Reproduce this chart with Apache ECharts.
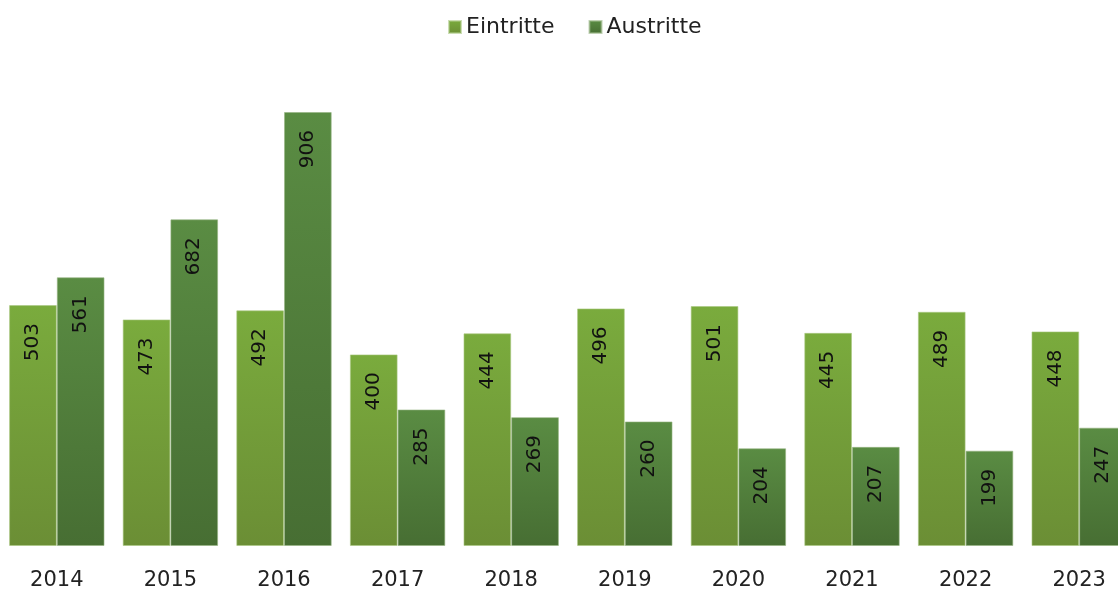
<!DOCTYPE html>
<html>
<head>
<meta charset="utf-8">
<script src="https://cdn.jsdelivr.net/npm/echarts@6/dist/echarts.min.js"></script>
<style>
  html, body { margin: 0; padding: 0; background: #fff; }
  #chart { width: 1118px; height: 592px; }
</style>
</head>
<body>
<div id="chart"></div>
<script>
const years = ["2014", "2015", "2016", "2017", "2018", "2019", "2020", "2021", "2022", "2023"];
const eintritte = [503, 473, 492, 400, 444, 496, 501, 445, 489, 448];
const austritte = [561, 682, 906, 285, 269, 260, 204, 207, 199, 247];

const fontFam = "'DejaVu Sans', sans-serif";

const barLabel = {
  show: true,
  position: "insideTop",
  rotate: 90,
  align: "right",
  verticalAlign: "middle",
  distance: 18,
  color: "#111",
  fontSize: 20,
  fontFamily: fontFam,
};

const option = {
  animation: false,
  legend: {
    top: 11,
    left: 443,
    icon: "rect",
    itemWidth: 12,
    itemHeight: 12,
    itemGap: 34,
    textStyle: { fontSize: 22, fontFamily: fontFam, color: "#222" },
    data: ["Eintritte", "Austritte"],
  },
  grid: {
    left: 0,
    width: 1136,
    top: 67,
    bottom: 46,
    outerBoundsMode: "none",
    containLabel: false,
  },
  xAxis: {
    type: "category",
    data: years,
    axisLine: { show: false },
    axisTick: { show: false },
    axisLabel: {
      margin: 24,
      fontSize: 21,
      fontFamily: fontFam,
      color: "#222",
    },
  },
  yAxis: {
    type: "value",
    min: 0,
    max: 1000,
    show: false,
    splitLine: { show: false },
  },
  series: [
    {
      name: "Eintritte",
      type: "bar",
      data: eintritte,
      barGap: "0%",
      barCategoryGap: "16%",
      label: barLabel,
      itemStyle: {
        color: new echarts.graphic.LinearGradient(0, 0, 0, 1, [
          { offset: 0, color: "#7aab3d" },
          { offset: 1, color: "#6b8e35" },
        ]),
        borderColor: "rgba(170,200,130,0.6)",
        borderWidth: 1,
      },
    },
    {
      name: "Austritte",
      type: "bar",
      data: austritte,
      label: barLabel,
      itemStyle: {
        color: new echarts.graphic.LinearGradient(0, 0, 0, 1, [
          { offset: 0, color: "#5a8c43" },
          { offset: 1, color: "#476e33" },
        ]),
        borderColor: "rgba(150,180,130,0.6)",
        borderWidth: 1,
      },
    },
  ],
};

const myChart = echarts.init(document.getElementById("chart"));
myChart.setOption(option);
</script>
</body>
</html>
